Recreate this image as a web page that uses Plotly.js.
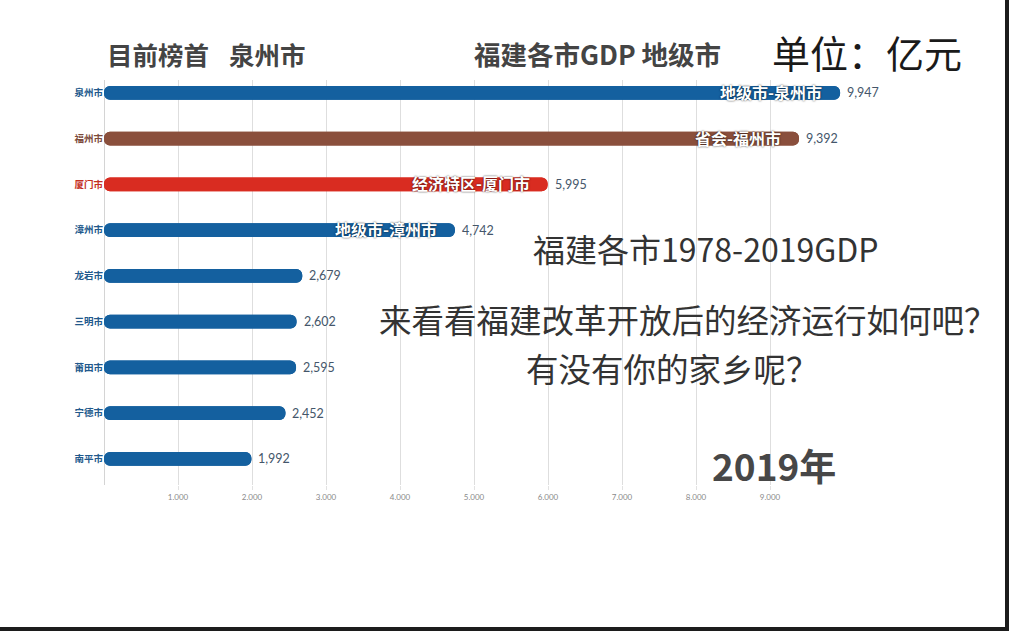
<!DOCTYPE html>
<html>
<head>
<meta charset="utf-8">
<script src="https://cdn.plot.ly/plotly-3.0.1.min.js"></script>
<style>
  html, body { margin: 0; padding: 0; background: #fff; }
  #wrap { position: relative; width: 1009px; height: 631px; overflow: hidden; }
  #chart { position: absolute; left: 0; top: 0; width: 1009px; height: 631px; }
  .edge-r { position: absolute; right: 0; top: 0; width: 4px; height: 631px; background: #1c1c1c; }
  .edge-b { position: absolute; left: 0; bottom: 0; width: 1009px; height: 4px; background: #1c1c1c; }
</style>
</head>
<body>
<div id="wrap">
  <div id="chart"></div>
  <div class="edge-r"></div>
  <div class="edge-b"></div>
</div>
<script>
// ---- data ----
const cities = ['泉州市', '福州市', '厦门市', '漳州市', '龙岩市', '三明市', '莆田市', '宁德市', '南平市'];
const gdp = [9947, 9392, 5995, 4742, 2679, 2602, 2595, 2452, 1992];
const barTags = ['地级市-泉州市', '省会-福州市', '经济特区-厦门市', '地级市-漳州市', '', '', '', '', ''];
const barColors = ['#14609f', '#8a4f3c', '#d92c21', '#14609f', '#14609f', '#14609f', '#14609f', '#14609f', '#14609f'];
const nameColors = ['#22598c', '#7c4a3a', '#c4301f', '#22598c', '#22598c', '#22598c', '#22598c', '#22598c', '#22598c'];
const tickVals = [1000, 2000, 3000, 4000, 5000, 6000, 7000, 8000, 9000];
const tickLabels = ['1.000', '2.000', '3.000', '4.000', '5.000', '6.000', '7.000', '8.000', '9.000'];
const leaderTitle = '目前榜首';
const leaderName = '泉州市';
const chartTitle = '福建各市GDP 地级市';
const unitText = '单位：亿元';
const introLines = ['福建各市1978-2019GDP', '来看看福建改革开放后的经济运行如何吧？', '有没有你的家乡呢？'];
const yearText = '2019年';

// ---- layout helpers ----
const W = 1009, H = 631;
const M = { l: 104, r: 91, t: 80, b: 146 };
const PW = W - M.l - M.r, PH = H - M.t - M.b;
const px = x => (x - M.l) / PW;
const py = y => (H - M.b - y) / PH;
const CJK = '"Noto Sans CJK SC", "Noto Sans", sans-serif';

const fmt = v => v.toLocaleString('en-US');
const zeros = gdp.map(() => 0);
const negs = gdp.map(v => -v);

const traces = [
  { // rounded right end
    type: 'bar', orientation: 'h', y: cities, x: gdp, base: zeros, width: 0.3,
    marker: { color: barColors, cornerradius: 7, line: { width: 0 } },
    hoverinfo: 'skip', showlegend: false
  },
  { // rounded left end
    type: 'bar', orientation: 'h', y: cities, x: negs, base: gdp, width: 0.3,
    marker: { color: barColors, cornerradius: 7, line: { width: 0 } },
    hoverinfo: 'skip', showlegend: false
  }
];

const annotations = [];
cities.forEach((c, i) => {
  if (barTags[i]) {
    annotations.push({
      x: gdp[i], y: c, xref: 'x', yref: 'y', text: '<b>' + barTags[i] + '</b>',
      showarrow: false, xanchor: 'right', yanchor: 'middle', xshift: -16, yshift: 1,
      font: { family: CJK, size: 16, color: '#ffffff', shadow: '0px 0px 2px rgba(0,0,0,0.8)' }
    });
  }
  annotations.push({
    x: gdp[i], y: c, xref: 'x', yref: 'y', text: fmt(gdp[i]),
    showarrow: false, xanchor: 'left', yanchor: 'middle', xshift: 5,
    font: { family: 'Lato, "Noto Sans", sans-serif', size: 12.5, color: '#44566a' }
  });
});

const textAnn = (txt, x, y, size, color, bold, anchor) => ({
  xref: 'paper', yref: 'paper', x: px(x), y: py(y), text: bold ? '<b>' + txt + '</b>' : txt,
  showarrow: false, xanchor: anchor || 'left', yanchor: 'middle',
  font: { family: CJK, size: size, color: color }
});

annotations.push(textAnn(leaderTitle, 105, 53, 25.5, '#444444', true));
annotations.push(textAnn(leaderName, 227, 53, 25.5, '#444444', true));
annotations.push(textAnn(chartTitle, 472, 53, 26.5, '#444444', true));
annotations.push(textAnn(unitText, 770, 51, 38, '#1a1a1a', false));
annotations.push(textAnn(introLines[0], 706, 248, 32, '#333333', false, 'center'));
annotations.push(textAnn(introLines[1], 688, 318, 32.5, '#333333', false, 'center'));
annotations.push(textAnn(introLines[2], 672, 367, 32.5, '#333333', false, 'center'));
annotations.push(textAnn(yearText, 774, 465, 37, '#474747', true, 'center'));

const layout = {
  width: W, height: H,
  margin: M,
  paper_bgcolor: '#ffffff', plot_bgcolor: '#ffffff',
  barmode: 'overlay',
  showlegend: false,
  xaxis: {
    range: [0, 11000],
    tickvals: tickVals, ticktext: tickLabels,
    showgrid: true, gridcolor: '#dedede', gridwidth: 1,
    zeroline: true, zerolinecolor: '#d4d4d4', zerolinewidth: 1,
    ticks: 'outside', ticklen: 4, tickcolor: '#e2e2e2',
    tickfont: { family: 'Lato, "Noto Sans", sans-serif', size: 8, color: '#8a8a8a' },
    showline: false, fixedrange: true
  },
  yaxis: {
    type: 'category',
    categoryorder: 'array', categoryarray: cities,
    range: [8.57, -0.28],
    tickvals: cities,
    ticktext: cities.map((c, i) => '<span style="color:' + nameColors[i] + '"><b>' + c + '</b></span>'),
    tickfont: { family: CJK, size: 9.5 },
    ticks: '', showgrid: false, zeroline: false, showline: false, fixedrange: true
  },
  annotations: annotations
};

Plotly.newPlot('chart', traces, layout, { displayModeBar: false, staticPlot: true });
</script>
</body>
</html>
